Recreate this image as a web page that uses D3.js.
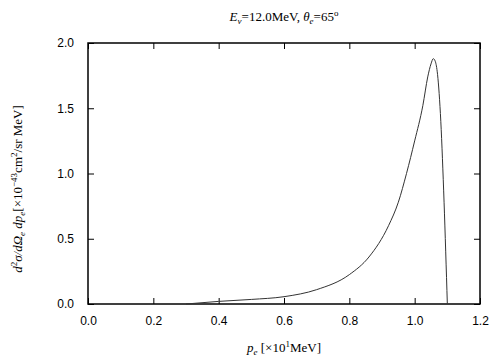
<!DOCTYPE html>
<html><head><meta charset="utf-8">
<script src="https://cdn.jsdelivr.net/npm/d3@7"></script>
<style>body{margin:0;background:#fff}svg{display:block}</style>
</head><body>
<script>
const xTicks = [0.0, 0.2, 0.4, 0.6, 0.8, 1.0, 1.2];
const yTicks = [0.0, 0.5, 1.0, 1.5, 2.0];
const pe = [0.30, 0.40, 0.50, 0.60, 0.70, 0.80, 0.86, 0.92, 0.95, 0.975, 1.00, 1.025, 1.04, 1.05, 1.057, 1.063, 1.07, 1.08, 1.09, 1.10];
const xsec = [0.0, 0.02, 0.035, 0.056, 0.11, 0.225, 0.36, 0.60, 0.78, 1.0, 1.25, 1.52, 1.74, 1.84, 1.88, 1.86, 1.76, 1.40, 0.78, 0.0];

const W = 504, H = 360;
const m = {l: 88, r: 24, t: 43, b: 56};
const svg = d3.select("body").append("svg").attr("width", W).attr("height", H);
const x = d3.scaleLinear().domain([0, 1.2]).range([m.l, W - m.r]);
const y = d3.scaleLinear().domain([0, 2.0]).range([H - m.b, m.t]);
const fmt = d3.format(".1f");
const sans = "'Liberation Sans', Arial, sans-serif";
const serif = "'Liberation Serif', 'Times New Roman', serif";

const ax = (g, axis) => g.call(axis).call(s => s.select(".domain").remove());
svg.append("g").attr("transform", `translate(0,${H - m.b})`)
  .call(g => ax(g, d3.axisBottom(x).tickValues(xTicks).tickFormat(fmt).tickSizeInner(-6).tickPadding(12)));
svg.append("g").attr("transform", `translate(0,${m.t})`)
  .call(g => ax(g, d3.axisTop(x).tickValues(xTicks).tickFormat("").tickSizeInner(-6)));
svg.append("g").attr("transform", `translate(${m.l},0)`)
  .call(g => ax(g, d3.axisLeft(y).tickValues(yTicks).tickFormat(fmt).tickSizeInner(-6).tickPadding(14)));
svg.append("g").attr("transform", `translate(${W - m.r},0)`)
  .call(g => ax(g, d3.axisRight(y).tickValues(yTicks).tickFormat("").tickSizeInner(-6)));
svg.selectAll(".tick text").attr("font-family", sans).attr("font-size", 12).attr("fill", "#000");
svg.selectAll(".tick line").attr("stroke", "#000").attr("stroke-width", 1);

svg.append("rect").attr("x", m.l).attr("y", m.t)
  .attr("width", W - m.r - m.l).attr("height", H - m.b - m.t)
  .attr("fill", "none").attr("stroke", "#000").attr("stroke-width", 1.5);

const data = pe.map((p, i) => [p, xsec[i]]);
svg.append("path").datum(data)
  .attr("d", d3.line().x(d => x(d[0])).y(d => y(d[1])).curve(d3.curveMonotoneX))
  .attr("fill", "none").attr("stroke", "#333").attr("stroke-width", 1);

const t = svg.append("text").attr("x", 284).attr("y", 21).attr("text-anchor", "middle")
  .attr("font-family", serif).attr("font-size", 13);
t.append("tspan").attr("font-style", "italic").text("E");
t.append("tspan").attr("font-style", "italic").attr("font-size", 9).attr("dy", 3).text("ν");
t.append("tspan").attr("dy", -3).text("=12.0MeV,  ");
t.append("tspan").attr("font-style", "italic").text("θ");
t.append("tspan").attr("font-style", "italic").attr("font-size", 9).attr("dy", 3).text("e");
t.append("tspan").attr("dy", -3).text("=65");
t.append("tspan").attr("font-size", 9).attr("dy", -5).text("o");

const xl = svg.append("text").attr("x", 284).attr("y", 352).attr("text-anchor", "middle")
  .attr("font-family", serif).attr("font-size", 13);
xl.append("tspan").attr("font-style", "italic").text("p");
xl.append("tspan").attr("font-style", "italic").attr("font-size", 9).attr("dy", 3).text("e");
xl.append("tspan").attr("dy", -3).text(" [×10");
xl.append("tspan").attr("font-size", 9).attr("dy", -5).text("1");
xl.append("tspan").attr("dy", 5).text("MeV]");

const yl = svg.append("text").attr("transform", "translate(22,189) rotate(-90)")
  .attr("text-anchor", "middle").attr("font-family", serif).attr("font-size", 13);
yl.append("tspan").attr("font-style", "italic").text("d");
yl.append("tspan").attr("font-size", 9).attr("dy", -5).text("2");
yl.append("tspan").attr("font-style", "italic").attr("dy", 5).text("σ/dΩ");
yl.append("tspan").attr("font-style", "italic").attr("font-size", 9).attr("dy", 3).text("e");
yl.append("tspan").attr("font-style", "italic").attr("dy", -3).text(" dp");
yl.append("tspan").attr("font-style", "italic").attr("font-size", 9).attr("dy", 3).text("e");
yl.append("tspan").attr("dy", -3).text("[×10");
yl.append("tspan").attr("font-size", 9).attr("dy", -5).text("−43");
yl.append("tspan").attr("dy", 5).text("cm");
yl.append("tspan").attr("font-size", 9).attr("dy", -5).text("2");
yl.append("tspan").attr("dy", 5).text("/sr MeV]");
</script>
</body></html>
